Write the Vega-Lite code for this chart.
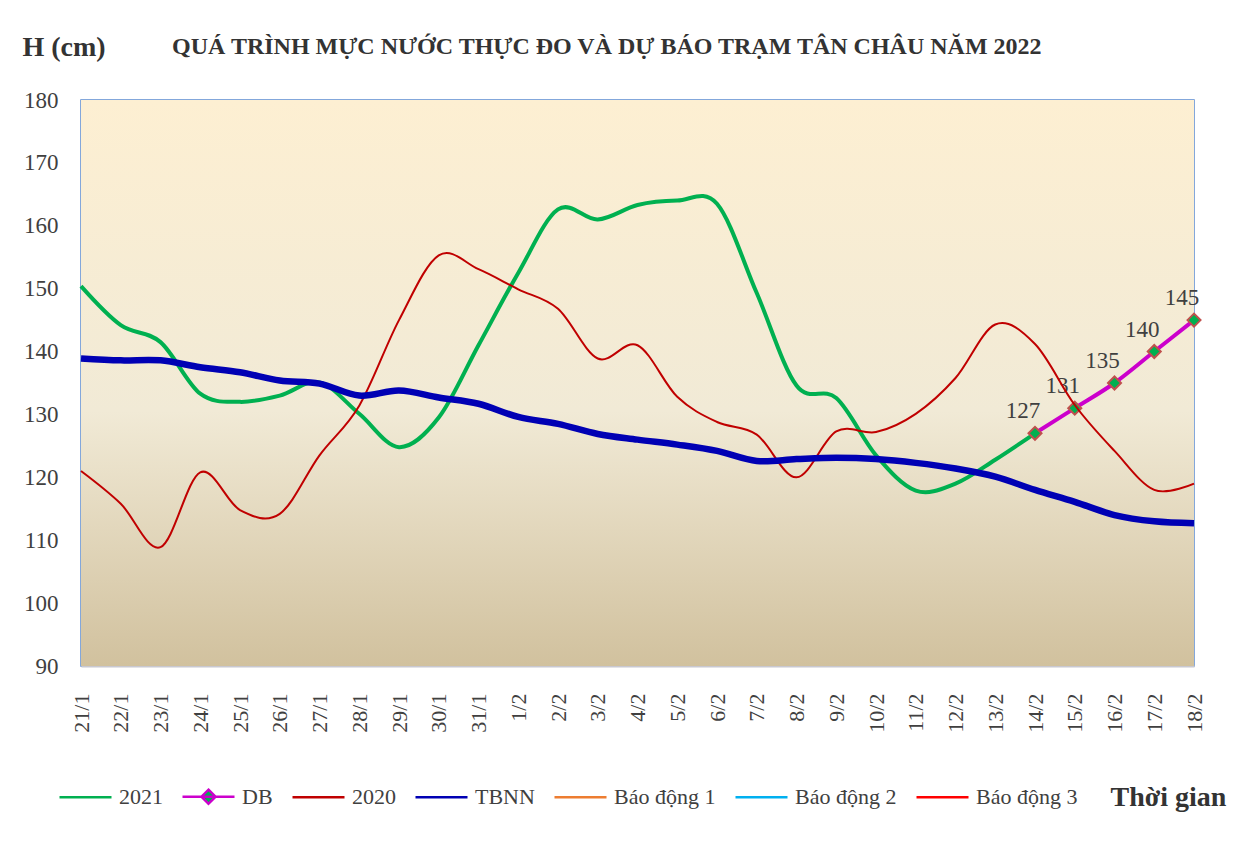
{
  "$schema": "https://vega.github.io/schema/vega-lite/v6.json",
  "width": 1113,
  "height": 566,
  "autosize": {"type": "none"},
  "padding": {"left": 81, "top": 100, "right": 62, "bottom": 184},
  "background": "white",
  "title": {
    "text": "QUÁ TRÌNH MỰC NƯỚC THỰC ĐO VÀ DỰ BÁO TRẠM TÂN CHÂU NĂM 2022",
    "anchor": "start",
    "frame": "group",
    "dx": 91,
    "offset": -45,
    "baseline": "alphabetic",
    "font": "Liberation Serif",
    "fontSize": 24,
    "fontWeight": "bold",
    "color": "#333333"
  },
  "data": {
    "values": [
      {"d": "21/1", "y2021": 150.4, "y2020": 121, "tbnn": 138.9, "db": null},
      {"d": "22/1", "y2021": 144.2, "y2020": 115.8, "tbnn": 138.6, "db": null},
      {"d": "23/1", "y2021": 141.5, "y2020": 108.9, "tbnn": 138.6, "db": null},
      {"d": "24/1", "y2021": 133.3, "y2020": 120.8, "tbnn": 137.5, "db": null},
      {"d": "25/1", "y2021": 132, "y2020": 114.8, "tbnn": 136.7, "db": null},
      {"d": "26/1", "y2021": 133, "y2020": 114.2, "tbnn": 135.4, "db": null},
      {"d": "27/1", "y2021": 135.1, "y2020": 123.5, "tbnn": 134.9, "db": null},
      {"d": "28/1", "y2021": 130.1, "y2020": 131.4, "tbnn": 133, "db": null},
      {"d": "29/1", "y2021": 124.8, "y2020": 145, "tbnn": 133.8, "db": null},
      {"d": "30/1", "y2021": 129.5, "y2020": 155.3, "tbnn": 132.7, "db": null},
      {"d": "31/1", "y2021": 141, "y2020": 153.1, "tbnn": 131.7, "db": null},
      {"d": "1/2", "y2021": 152.5, "y2020": 149.9, "tbnn": 129.6, "db": null},
      {"d": "2/2", "y2021": 162.6, "y2020": 146.8, "tbnn": 128.5, "db": null},
      {"d": "3/2", "y2021": 161, "y2020": 138.9, "tbnn": 126.9, "db": null},
      {"d": "4/2", "y2021": 163.3, "y2020": 141, "tbnn": 126, "db": null},
      {"d": "5/2", "y2021": 164, "y2020": 132.8, "tbnn": 125.2, "db": null},
      {"d": "6/2", "y2021": 163.5, "y2020": 128.8, "tbnn": 124.2, "db": null},
      {"d": "7/2", "y2021": 149.3, "y2020": 126.8, "tbnn": 122.6, "db": null},
      {"d": "8/2", "y2021": 134.6, "y2020": 120, "tbnn": 122.9, "db": null},
      {"d": "9/2", "y2021": 132.6, "y2020": 127.3, "tbnn": 123.1, "db": null},
      {"d": "10/2", "y2021": 123.5, "y2020": 127.2, "tbnn": 122.9, "db": null},
      {"d": "11/2", "y2021": 117.9, "y2020": 130.1, "tbnn": 122.3, "db": null},
      {"d": "12/2", "y2021": 119, "y2020": 135.8, "tbnn": 121.4, "db": null},
      {"d": "13/2", "y2021": 122.8, "y2020": 144.3, "tbnn": 120.1, "db": null},
      {"d": "14/2", "y2021": 127, "y2020": 141.2, "tbnn": 118, "db": 127},
      {"d": "15/2", "y2021": null, "y2020": 131.5, "tbnn": 116.1, "db": 131},
      {"d": "16/2", "y2021": null, "y2020": 124.2, "tbnn": 114, "db": 135},
      {"d": "17/2", "y2021": null, "y2020": 118, "tbnn": 113, "db": 140},
      {"d": "18/2", "y2021": null, "y2020": 119, "tbnn": 112.7, "db": 145}
    ]
  },
  "encoding": {
    "x": {
      "field": "d",
      "type": "ordinal",
      "scale": {
        "type": "point",
        "padding": 0,
        "domain": ["21/1","22/1","23/1","24/1","25/1","26/1","27/1","28/1","29/1","30/1","31/1","1/2","2/2","3/2","4/2","5/2","6/2","7/2","8/2","9/2","10/2","11/2","12/2","13/2","14/2","15/2","16/2","17/2","18/2"]
      },
      "axis": {
        "title": "Thời gian",
        "titleX": 1029,
        "titleY": 139,
        "titleAlign": "left",
        "titleBaseline": "alphabetic",
        "titleAngle": 0,
        "titleFont": "Liberation Serif",
        "titleFontSize": 28,
        "titleFontWeight": "bold",
        "titleColor": "#333333",
        "labelAngle": -90,
        "labelAlign": "right",
        "labelBaseline": "middle",
        "labelPadding": 27,
        "labelFont": "Liberation Serif",
        "labelFontSize": 22,
        "labelColor": "#404040",
        "ticks": false,
        "tickSize": 0,
        "domain": true,
        "domainColor": "#C8C8D0",
        "domainWidth": 2,
        "grid": false,
        "labelOverlap": false
      }
    }
  },
  "layer": [
    {
      "data": {"values": [{"lo": 90, "hi": 180}]},
      "mark": {
        "type": "rect",
        "fill": {
          "gradient": "linear",
          "x1": 0, "y1": 0, "x2": 0, "y2": 1,
          "stops": [
            {"offset": 0, "color": "#FDEFD2"},
            {"offset": 0.55, "color": "#F1EAD6"},
            {"offset": 1, "color": "#D1C19E"}
          ]
        }
      },
      "encoding": {
        "x": null,
        "y": {"field": "lo", "type": "quantitative", "scale": {"domain": [90, 180], "nice": false}},
        "y2": {"field": "hi"}
      }
    },
    {
      "mark": {"type": "line", "interpolate": "cardinal", "tension": 0, "strokeWidth": 4},
      "encoding": {
        "y": {
          "field": "y2021",
          "type": "quantitative",
          "scale": {"domain": [90, 180], "nice": false},
          "axis": {
            "values": [90, 100, 110, 120, 130, 140, 150, 160, 170, 180],
            "title": "H (cm)",
            "titleAngle": 0,
            "titleAlign": "left",
            "titleBaseline": "alphabetic",
            "titleX": -59,
            "titleY": -45,
            "titleFont": "Liberation Serif",
            "titleFontSize": 28,
            "titleFontWeight": "bold",
            "titleColor": "#333333",
            "labelFont": "Liberation Serif",
            "labelFontSize": 23,
            "labelColor": "#404040",
            "labelPadding": 23,
            "ticks": false,
            "tickSize": 0,
            "domain": false,
            "grid": false
          }
        },
        "color": {
          "datum": "2021",
          "type": "nominal",
          "scale": {
            "domain": ["2021", "DB", "2020", "TBNN", "Báo động 1", "Báo động 2", "Báo động 3"],
            "range": ["#00B050", "#CC00CC", "#C00000", "#0000B4", "#ED7D31", "#00B0F0", "#FF0000"]
          },
          "legend": {
            "orient": "none",
            "direction": "horizontal",
            "legendX": -23,
            "legendY": 669,
            "title": null,
            "symbolType": "stroke",
            "symbolSize": 2704,
            "symbolStrokeWidth": 2.5,
            "labelFont": "Liberation Serif",
            "labelFontSize": 22,
            "labelColor": "#404040",
            "labelOffset": 6,
            "columnPadding": 14,
            "encode": {
              "symbols": {
                "update": {
                  "shape": {"signal": "datum.label === 'DB' ? 'M-1,0H1M0,-0.27L0.27,0L0,0.27L-0.27,0Z' : 'stroke'"},
                  "fill": {"signal": "datum.label === 'DB' ? '#00B050' : 'transparent'"}
                }
              }
            }
          }
        }
      }
    },
    {
      "mark": {"type": "line", "interpolate": "cardinal", "tension": 0, "strokeWidth": 4},
      "encoding": {
        "y": {"field": "db", "type": "quantitative"},
        "color": {"datum": "DB", "type": "nominal"}
      }
    },
    {
      "mark": {"type": "point", "shape": "diamond", "filled": true, "fill": "#00B050", "stroke": "#C0504D", "strokeWidth": 2, "size": 170, "opacity": 1},
      "encoding": {
        "y": {"field": "db", "type": "quantitative"}
      }
    },
    {
      "mark": {"type": "text", "dx": -12, "dy": -22, "font": "Liberation Serif", "fontSize": 23, "color": "#404040"},
      "encoding": {
        "y": {"field": "db", "type": "quantitative"},
        "text": {"field": "db", "type": "quantitative"}
      }
    },
    {
      "mark": {"type": "line", "interpolate": "cardinal", "tension": 0, "strokeWidth": 2},
      "encoding": {
        "y": {"field": "y2020", "type": "quantitative"},
        "color": {"datum": "2020", "type": "nominal"}
      }
    },
    {
      "mark": {"type": "line", "interpolate": "cardinal", "tension": 0, "strokeWidth": 6.5},
      "encoding": {
        "y": {"field": "tbnn", "type": "quantitative"},
        "color": {"datum": "TBNN", "type": "nominal"}
      }
    }
  ],
  "config": {
    "view": {"stroke": "#5B8BD0", "strokeWidth": 1.5},
    "font": "Liberation Serif"
  }
}
